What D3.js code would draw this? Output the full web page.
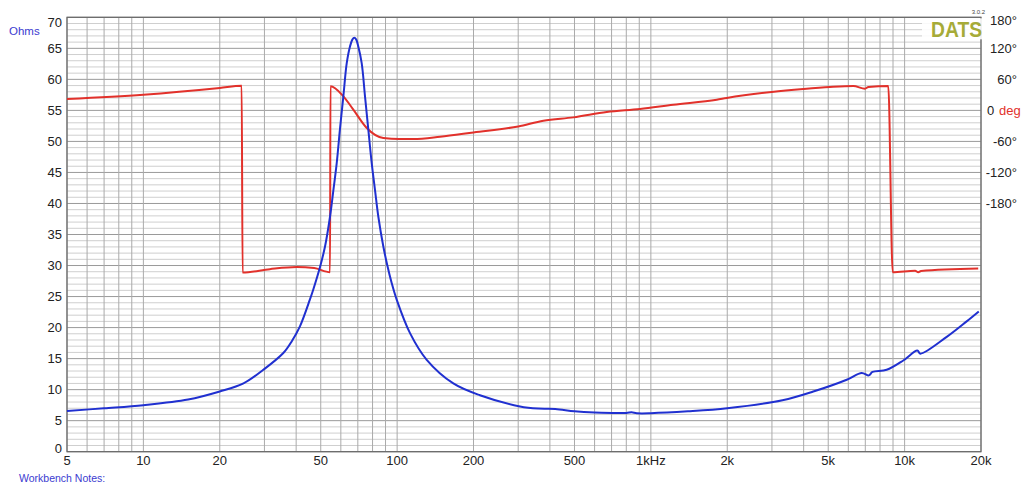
<!DOCTYPE html>
<html>
<head>
<meta charset="utf-8">
<script src="https://cdn.jsdelivr.net/npm/d3@7"></script>
<style>
html,body{margin:0;padding:0;background:#fff;}
svg{display:block;font-family:"Liberation Sans",Arial,sans-serif;}
</style>
</head>
<body>
<svg id="chart" width="1024" height="490"></svg>
<script>
// ---- data ----
const xTicks = [5, 10, 20, 50, 100, 200, 500, 1000, 2000, 5000, 10000, 20000];
const xTickLabels = ["5", "10", "20", "50", "100", "200", "500", "1kHz", "2k", "5k", "10k", "20k"];
const ohmTicks = [0, 5, 10, 15, 20, 25, 30, 35, 40, 45, 50, 55, 60, 65, 70];
const phaseTicks = [180, 120, 60, 0, -60, -120, -180];
const phaseTickLabels = ["180°", "120°", "60°", "0", "-60°", "-120°", "-180°"];

const impFreq = [5, 7, 10, 15, 20, 24.8, 29.7, 35.6, 38.5, 41.4, 45.3, 46.7, 49.7, 52, 54.4, 56.1, 57.8, 59.5, 61.4, 63.3, 65.2, 66.6, 67.8, 69.0, 70.3, 72.5, 74.7, 77, 79.4, 81.8, 84.3, 88.2, 91.5, 95, 99.6, 112.4, 130.8, 166.5, 212, 305, 360, 420, 500, 600, 800, 840, 880, 1000, 1400, 2000, 3300, 4366, 5913, 6775, 7230, 7470, 8497, 9880, 11223, 11530, 14655, 17560, 19600];
const impOhms = [6.56, 7.0, 7.5, 8.4, 9.7, 11.0, 13.2, 15.9, 17.85, 20.2, 24.5, 26.1, 29.8, 33.1, 37.9, 42.2, 46.5, 51.9, 57.3, 62.6, 65.3, 66.4, 66.7, 66.4, 65.3, 62.6, 57.3, 51.9, 46.5, 42.2, 37.9, 33.1, 30.0, 27.3, 24.5, 19.1, 14.8, 11.0, 9.1, 7.3, 6.95, 6.9, 6.5, 6.3, 6.25, 6.35, 6.2, 6.2, 6.5, 7.0, 8.3, 9.7, 11.6, 12.7, 12.3, 12.85, 13.2, 14.7, 16.3, 15.8, 18.5, 21.0, 22.6];

const phaseFreq = [5, 10, 20, 24.4, 24.6, 31.5, 40.2, 47.1, 54.4, 54.6, 61.4, 67.2, 75.9, 88.2, 102, 116, 147.6, 200, 300, 377, 495, 670, 906, 1225, 1818, 1990, 2993, 3988, 5080, 6280, 6980, 7200, 8622, 8975, 11000, 11320, 11600, 19500];
const phaseDeg = [22.1, 30.4, 43.4, 47.8, -313.5, -307, -303, -305, -312.8, 46.5, 27.1, 1.4, -34, -53.4, -55.4, -55.4, -51, -42.6, -31, -19.9, -13.5, -3.1, 2.7, 11, 20.7, 24, 35.6, 41.4, 45.3, 47.2, 42, 45.3, 47.2, -312.8, -310, -313, -310.5, -305.8];

// ---- layout ----
const svg = d3.select("#chart");
const L = 67, R = 981, T = 17.3, B = 451.7;

const x = d3.scaleLog().domain([5, 20000]).range([L, R]);
const y = d3.scaleLinear().domain([0, 70]).range([B, T]);
// phase axis: -180..180 deg maps onto 40..70 ohm grid span
const yp = d3.scaleLinear().domain([-180, 180]).range([y(40), y(70)]);

// ---- grid ----
const grid = svg.append("g");
const hLines = d3.range(0, 71, 1);
grid.selectAll("line.h").data(hLines).enter().append("line")
  .attr("x1", L).attr("x2", R)
  .attr("y1", d => y(d)).attr("y2", d => y(d))
  .attr("stroke", d => d % 5 === 0 ? "#9a9a9a" : "#cfcfcf")
  .attr("stroke-width", 1);

const vLines = [];
[1, 10, 100, 1000, 10000].forEach(dec => {
  for (let k = 1; k <= 9; k++) {
    const f = k * dec;
    if (f >= 5 && f <= 20000) vLines.push(f);
  }
});
grid.selectAll("line.v").data(vLines).enter().append("line")
  .attr("x1", d => x(d)).attr("x2", d => x(d))
  .attr("y1", T).attr("y2", B)
  .attr("stroke", "#aaaaaa")
  .attr("stroke-width", 1);

// frame
svg.append("rect").attr("x", L).attr("y", T).attr("width", R - L).attr("height", B - T)
  .attr("fill", "none").attr("stroke", "#666").attr("stroke-width", 1.2);

// ---- curves ----
const impData = impFreq.map((f, i) => [f, impOhms[i]]);
const phaseData = phaseFreq.map((f, i) => [f, phaseDeg[i]]);

svg.append("path").datum(phaseData)
  .attr("fill", "none").attr("stroke", "#e2312b").attr("stroke-width", 2)
  .attr("stroke-linejoin", "round")
  .attr("d", d3.line().x(d => x(d[0])).y(d => yp(d[1])).curve(d3.curveMonotoneX));

svg.append("path").datum(impData)
  .attr("fill", "none").attr("stroke", "#2030d0").attr("stroke-width", 2)
  .attr("stroke-linejoin", "round")
  .attr("d", d3.line().x(d => x(d[0])).y(d => y(d[1])).curve(d3.curveCatmullRom.alpha(0.5)));

// ---- axes labels ----
svg.append("g").selectAll("text").data(ohmTicks).enter().append("text")
  .attr("x", 62)
  .attr("y", d => y(d) + (d === 70 ? 5 : d === 0 ? -3 : 0))
  .attr("dy", "0.36em")
  .attr("text-anchor", "end")
  .attr("font-size", 13).attr("fill", "#222")
  .text(d => d);

svg.append("g").selectAll("text").data(xTicks).enter().append("text")
  .attr("x", d => x(d))
  .attr("y", 460).attr("dy", "0.36em")
  .attr("text-anchor", "middle")
  .attr("font-size", 13).attr("fill", "#222")
  .text((d, i) => xTickLabels[i]);

// phase labels
const pg = svg.append("g");
phaseTicks.forEach((d, i) => {
  const yy = yp(d) + (d === 180 ? 3 : 0);
  if (d === 0) {
    pg.append("text").attr("x", 987).attr("y", yy).attr("dy", "0.36em")
      .attr("font-size", 13).attr("fill", "#222").text("0");
    pg.append("text").attr("x", 999).attr("y", yy).attr("dy", "0.36em")
      .attr("font-size", 13).attr("fill", "#e2312b").text("deg");
  } else {
    pg.append("text").attr("x", 1017).attr("y", yy).attr("dy", "0.36em")
      .attr("text-anchor", "end")
      .attr("font-size", 13).attr("fill", "#222").text(phaseTickLabels[i]);
  }
});

// Ohms label
svg.append("text").attr("x", 9).attr("y", 35)
  .attr("font-size", 11.5).attr("fill", "#3b3bd0").text("Ohms");

// Workbench notes
svg.append("text").attr("x", 19).attr("y", 482)
  .attr("font-size", 10.5).attr("fill", "#3b3bd0").text("Workbench Notes:");

// DATS logo
svg.append("rect").attr("x", 922).attr("y", T + 1).attr("width", 61).attr("height", 21)
  .attr("fill", "#fff").attr("opacity", 0.88);
svg.append("text").attr("x", 931).attr("y", 36.5)
  .attr("font-size", 22).attr("font-weight", "bold").attr("fill", "#a6ab38")
  .attr("textLength", 51).attr("lengthAdjust", "spacingAndGlyphs")
  .text("DATS");
svg.append("text").attr("x", 985).attr("y", 14)
  .attr("text-anchor", "end")
  .attr("font-size", 6).attr("fill", "#444").text("3.0.2");
</script>
</body>
</html>
